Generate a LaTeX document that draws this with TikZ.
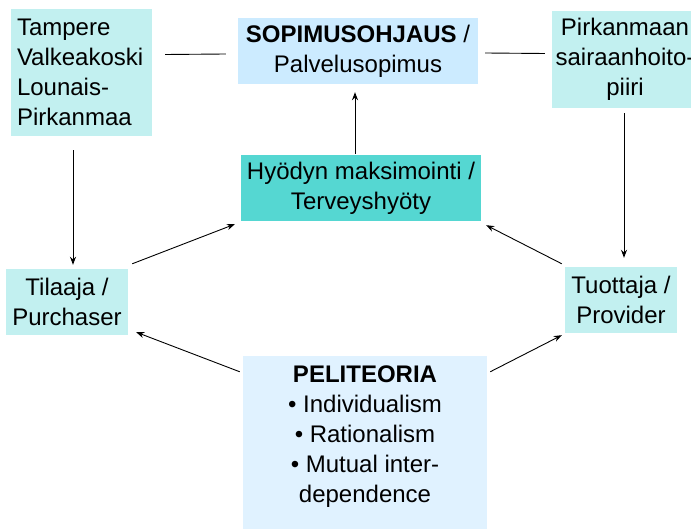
\documentclass[tikz,border=0pt]{standalone}
\usepackage{fontspec}
\setmainfont{Liberation Sans}
\usetikzlibrary{arrows.meta,calc}
\definecolor{cyanlight}{HTML}{C2F0F0}
\definecolor{bluelight}{HTML}{CCEBFF}
\definecolor{teal2}{HTML}{55D7D2}
\definecolor{bluepale}{HTML}{E0F2FF}
\begin{document}
\begin{tikzpicture}[x=1pt,y=-1pt,
  box/.style={inner sep=0pt,font=\fontsize{24}{30}\selectfont,align=center},
  arr/.style={line width=0.9pt,-{Stealth[length=8pt,width=6pt]}},
  link/.style={line width=0.9pt}]
\useasboundingbox (0,0) rectangle (691,529);
% boxes
\node[box,fill=cyanlight,minimum width=141pt,minimum height=127pt,text width=129pt,align=left] (A) at (81.5,72.5)
  {Tampere\\Valkeakoski\\Lounais-\\Pirkanmaa};
\node[box,fill=bluelight,minimum width=240pt,minimum height=66pt] (sop) at (358,51)
  {\textbf{SOPIMUSOHJAUS} /\\Palvelusopimus};
\begin{scope}
\clip (0,0) rectangle (691,529);
\node[box,fill=cyanlight,minimum width=146pt,minimum height=97pt] (pirk) at (625,59.5)
  {Pirkanmaan\\sairaanhoito-\\piiri};
\end{scope}
\node[box,fill=teal2,minimum width=240pt,minimum height=66pt] (hyod) at (361,188)
  {Hyödyn maksimointi /\\Terveyshyöty};
\node[box,fill=cyanlight,minimum width=122pt,minimum height=66pt] (til) at (67,302)
  {Tilaaja /\\Purchaser};
\node[box,fill=cyanlight,minimum width=112pt,minimum height=66pt] (tuo) at (621,300)
  {Tuottaja /\\Provider};
% the strut on the last line lifts the text block towards the top of the box
\node[box,fill=bluepale,minimum width=244pt,minimum height=173pt] (peli) at (365,442.5)
  {\textbf{PELITEORIA}\\• Individualism\\• Rationalism\\• Mutual inter-\\dependence\rule[-17pt]{0pt}{1pt}};
% connectors
\draw[link] ($(A.east)+(13,-18)$) -- ($(sop.west)+(-12,3)$);
\draw[link] ($(sop.east)+(7,2)$) -- ($(pirk.west)+(-7,-6)$);
\draw[arr] ($(A.south)+(-8.5,14)$) -- ($(til.north)+(6,-4)$);
\draw[arr] ($(pirk.south)+(-1,5)$) -- ($(tuo.north)+(3,-9)$);
\draw[arr] ($(hyod.north)+(-6,-1)$) -- ($(sop.south)+(-3,8)$);
\draw[arr] ($(til.north east)+(4,-5)$) -- ($(hyod.south west)+(-6,3)$);
\draw[arr] ($(tuo.north west)+(-3,-3)$) -- ($(hyod.south east)+(5,4)$);
\draw[arr] ($(peli.north west)+(-3,16)$) -- ($(til.south east)+(8,-3)$);
\draw[arr] ($(peli.north east)+(3,16)$) -- ($(tuo.south west)+(-3,2)$);
\end{tikzpicture}
\end{document}
